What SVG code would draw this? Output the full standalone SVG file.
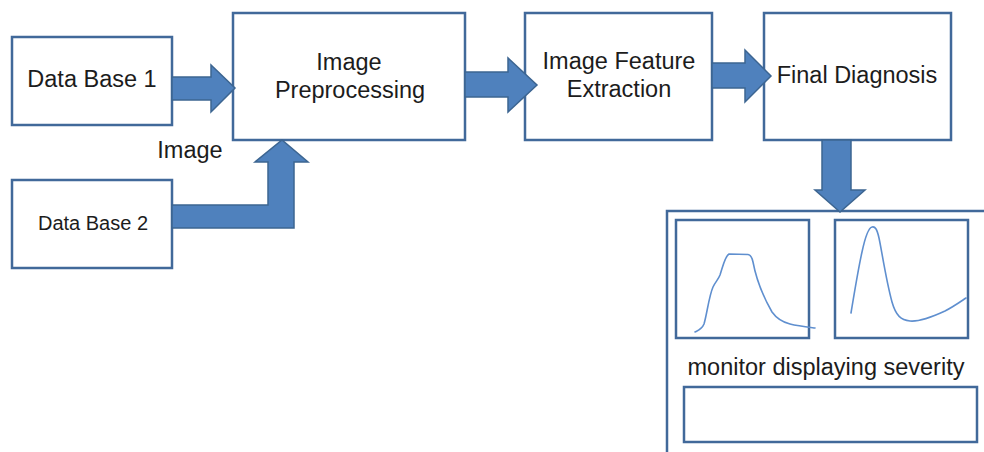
<svg xmlns="http://www.w3.org/2000/svg" width="984" height="452" viewBox="0 0 984 452">
<style>
.box{fill:#fff;stroke:#41699a;stroke-width:2.5}
.arrow{fill:#4f81bd;stroke:#3c6591;stroke-width:1.5;stroke-linejoin:miter}
.curve{fill:none;stroke:#5f8fcf;stroke-width:1.6;stroke-linejoin:round;stroke-linecap:round}
text{font-family:"Liberation Sans","Open Sans",sans-serif;fill:#1c1c1c;text-anchor:middle}
.t{font-size:23.5px}
.s{font-size:20px}
</style>
<rect width="984" height="452" fill="#fff"/>
<g id="db1"><rect class="box" x="12" y="37" width="160" height="88"/><text class="t" x="92" y="87">Data Base 1</text></g>
<g id="db2"><rect class="box" x="12" y="180" width="160" height="88"/><text class="s" x="93" y="230">Data Base 2</text></g>
<g id="preproc"><rect class="box" x="233" y="13" width="232" height="127"/><text class="t" x="349" y="70">Image</text><text class="t" x="350" y="98">Preprocessing</text></g>
<g id="feature"><rect class="box" x="525" y="13" width="187" height="127"/><text class="t" x="619" y="69">Image Feature</text><text class="t" x="619" y="97">Extraction</text></g>
<g id="diagnosis"><rect class="box" x="764" y="13" width="187" height="127"/><text class="t" x="857" y="83">Final Diagnosis</text></g>
<g id="monitor">
<path class="box" d="M667,452 V211 H990" fill="none"/>
<rect class="box" x="676" y="220" width="133" height="118"/>
<rect class="box" x="835" y="220" width="133" height="118"/>
<path class="curve" d="M695,332 C699,330 702,329 704,324 C707,314 709,296 713,287 C716,281 718,280 720,275 C723,266 725,256 729,254 L748,254.5 C751,255 752,257 753,262 C756,278 764,298 772,312 C777,319 782,322 790,324 C798,326 807,327 815,328"/>
<path class="curve" d="M851,313 C854,295 858,270 862,252 C865,238 868,228 872,227 C875,226 877,229 879,238 C882,252 886,280 892,302 C896,316 901,320 910,321 C920,322 932,317 945,311 C953,307 960,302 966,298"/>
<text class="t" x="826" y="375">monitor displaying severity</text>
<rect class="box" x="684" y="387" width="293" height="55"/>
</g>
<g id="connectors">
<polygon class="arrow" points="172,77 211,77 211,65 235,88 211,112 211,100 172,100"/>
<polygon class="arrow" points="172,205 268,205 268,162 255,162 282,140 308,162 294,162 294,228 172,228"/>
<polygon class="arrow" points="465,72 508,72 508,58 537,85 508,112 508,97 465,97"/>
<polygon class="arrow" points="712,63 745,63 745,50 771,76 745,102 745,88 712,88"/>
<polygon class="arrow" points="822,140 851,140 851,190 865,190 840,212 815,190 822,190"/>
</g>
<text class="t" x="190" y="158">Image</text>
</svg>
